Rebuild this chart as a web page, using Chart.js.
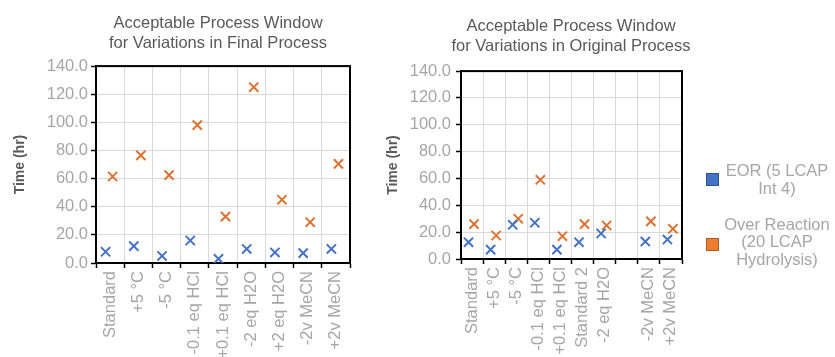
<!DOCTYPE html>
<html><head><meta charset="utf-8">
<script src="https://cdn.jsdelivr.net/npm/chart.js@4.4.0/dist/chart.umd.min.js"></script>
<style>
html,body{margin:0;padding:0;background:#fff;width:835px;height:357px;overflow:hidden;}
#w1{position:absolute;left:0;top:0;width:436px;height:357px;}
#w2{position:absolute;left:370px;top:0;width:402px;height:357px;}
#legend{position:absolute;left:700px;top:0;width:135px;height:357px;font-family:"Liberation Sans",Arial,sans-serif;font-size:16.5px;color:#a6a6a6;}
.item{position:absolute;left:0;width:135px;}
.sw{position:absolute;left:6px;width:11px;height:11px;border:1px solid;}
.txt{position:absolute;left:22px;width:110px;text-align:center;line-height:17.5px;white-space:nowrap;}
</style></head>
<body>
<div id="w1"><canvas id="c1" width="436" height="357"></canvas></div>
<div id="w2"><canvas id="c2" width="402" height="357"></canvas></div>
<div id="legend"></div>
<script>
// ---- data ----
const finalCategories = ['Standard','+5 °C','-5 °C','-0.1 eq HCl','+0.1 eq HCl','-2 eq H2O','+2 eq H2O','-2v MeCN','+2v MeCN'];
const finalEOR  = [8.0, 12.0, 5.0, 16.0, 3.0, 10.0, 7.5, 7.0, 10.0];
const finalOver = [61.5, 76.5, 62.5, 98.0, 33.0, 125.0, 45.0, 29.0, 70.5];

const originalCategories = ['Standard','+5 °C','-5 °C','-0.1 eq HCl','+0.1 eq HCl','Standard 2','-2 eq H2O','','-2v MeCN','+2v MeCN'];
const originalEOR  = [12.5, 7.0, 25.5, 27.0, 7.0, 12.5, 19.0, null, 13.0, 14.5];
const originalOver = [26.0, 17.5, 30.0, 59.0, 17.0, 26.0, 25.0, null, 28.0, 22.5];

const seriesNames = [['EOR (5 LCAP','Int 4)'], ['Over Reaction','(20 LCAP','Hydrolysis)']];
const titles = [['Acceptable Process Window','for Variations in Final Process'],
                ['Acceptable Process Window','for Variations in Original Process']];
const yAxisTitle = 'Time (hr)';
const yMin = 0, yMax = 140, yStep = 20;

// ---- styles ----
const BLUE = '#4472C4', ORANGE = '#DA7433';
const SHIFT = [-0.16, 0.09];
const FONT = '"Liberation Sans", Arial, sans-serif';
const TICK_GRAY = '#a6a6a6';

const framePlugin = {
  id: 'frame',
  beforeDatasetsDraw(chart) {
    const {ctx, chartArea: a} = chart;
    ctx.save();
    ctx.strokeStyle = '#000';
    ctx.lineWidth = 2;
    ctx.strokeRect(a.left, a.top, a.right - a.left, a.bottom - a.top);
    ctx.restore();
  }
};

function toPoints(values, shift) {
  return values.map((v, i) => ({x: i + shift, y: v}));
}

function makeChart(id, cats, eor, over, title, opt) {
  const n = cats.length;
  return new Chart(document.getElementById(id), {
    type: 'scatter',
    data: {
      datasets: [
        {label: seriesNames[0].join(' '), data: toPoints(eor, SHIFT[0]), xAxisID: 'xv', yAxisID: 'y',
         pointStyle: 'crossRot', pointRadius: 6.5, pointBorderWidth: 2, borderColor: BLUE, backgroundColor: BLUE},
        {label: seriesNames[1].join(' '), data: toPoints(over, SHIFT[1]), xAxisID: 'xv', yAxisID: 'y',
         pointStyle: 'crossRot', pointRadius: 6.5, pointBorderWidth: 2, borderColor: ORANGE, backgroundColor: ORANGE}
      ]
    },
    options: {
      responsive: false,
      animation: false,
      events: [],
      layout: {padding: 0},
      plugins: {
        legend: {display: false},
        tooltip: {enabled: false},
        title: {
          display: true, text: title, color: '#595959', fullSize: true,
          font: {family: FONT, size: 16.5, weight: 'normal', lineHeight: 1.2},
          padding: {top: opt.titleTop, bottom: opt.titleBottom}
        }
      },
      scales: {
        x: {
          type: 'category', labels: cats, position: 'bottom', offset: true,
          grid: {offset: true, color: '#d9d9d9', lineWidth: 1, tickColor: '#000', tickLength: 5, tickWidth: 1.5},
          border: {color: '#000', width: 2},
          ticks: {color: TICK_GRAY, font: {family: FONT, size: 16.5}, minRotation: 90, maxRotation: 90, autoSkip: false, padding: 3},
          afterFit(s) { s.height = opt.xHeight; }
        },
        xv: {type: 'linear', display: false, min: -0.5, max: n - 0.5},
        y: {
          type: 'linear', min: yMin, max: yMax,
          grid: {color: '#d9d9d9', lineWidth: 1, tickColor: '#000', tickLength: 5, tickWidth: 1.5},
          border: {color: '#000', width: 2},
          ticks: {stepSize: yStep, color: TICK_GRAY, font: {family: FONT, size: 16.5}, padding: opt.yPad,
                  callback: v => Number(v).toFixed(1)},
          title: {display: true, text: yAxisTitle, color: '#595959',
                  font: {family: FONT, size: 14, weight: 'bold'}, padding: {top: opt.yTitlePad, bottom: 0}},
          afterFit(s) { s.width = opt.yWidth; }
        },
        spacer: {
          type: 'linear', position: 'right', display: true, min: yMin, max: yMax,
          grid: {display: false}, border: {display: false}, ticks: {display: false},
          afterFit(s) { s.width = opt.rightSpace; }
        }
      }
    },
    plugins: [framePlugin]
  });
}

makeChart('c1', finalCategories, finalEOR, finalOver, titles[0],
  {rightSpace: 86, titleTop: 13.5, titleBottom: 13, xHeight: 94, yWidth: 96, yPad: 3, yTitlePad: 12});
makeChart('c2', originalCategories, originalEOR, originalOver, titles[1],
  {rightSpace: 90, titleTop: 17, titleBottom: 14.5, xHeight: 98, yWidth: 91, yPad: 5, yTitlePad: 15});

// ---- legend (HTML) ----
const legendColors = [[BLUE, '#2F528F'], ['#ED7D31', '#AE5A21']];
const legendCenters = [179.5, 242];
const lg = document.getElementById('legend');
seriesNames.forEach((lines, k) => {
  const lh = 17.5, h = lines.length * lh, top = legendCenters[k] - h / 2;
  const item = document.createElement('div');
  item.className = 'item';
  item.style.top = top + 'px';
  item.style.height = h + 'px';
  const sw = document.createElement('div');
  sw.className = 'sw';
  sw.style.background = legendColors[k][0];
  sw.style.borderColor = legendColors[k][1];
  sw.style.top = (h / 2 - 6.5 + (k === 1 ? 2 : 0)) + 'px';
  const tx = document.createElement('div');
  tx.className = 'txt';
  tx.innerHTML = lines.join('<br>');
  item.appendChild(sw);
  item.appendChild(tx);
  lg.appendChild(item);
});
</script>
</body></html>
